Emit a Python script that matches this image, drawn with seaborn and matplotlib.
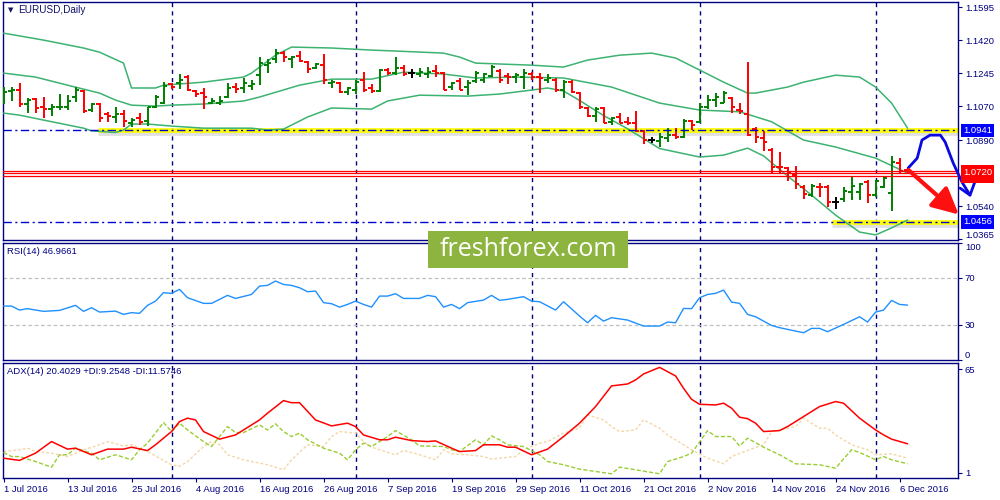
import matplotlib
matplotlib.use("Agg")
import numpy as np
import matplotlib.pyplot as plt
import matplotlib.patheffects as pe
from matplotlib.patches import Rectangle
import seaborn as sns

# ==========================================
# 1. DATA
# ==========================================
bar_open = [1.1120, 1.1150, 1.1158, 1.1081, 1.1106, 1.1063, 1.1054, 1.1063, 1.1067, 1.1120,
            1.1148, 1.1049, 1.1081, 1.1028, 1.1014, 1.1028, 1.0978, 1.1005, 1.0992, 1.1067,
            1.1084, 1.1185, 1.1190, 1.1226, 1.1151, 1.1137, 1.1088, 1.1088, 1.1120, 1.1173,
            1.1164, 1.1176, 1.1234, 1.1288, 1.1318, 1.1353, 1.1318, 1.1335, 1.1305, 1.1273,
            1.1288, 1.1190, 1.1194, 1.1146, 1.1158, 1.1208, 1.1164, 1.1150, 1.1261, 1.1243,
            1.1270, 1.1243, 1.1238, 1.1240, 1.1256, 1.1247, 1.1173, 1.1203, 1.1173, 1.1204,
            1.1208, 1.1229, 1.1257, 1.1229, 1.1226, 1.1222, 1.1240, 1.1226, 1.1208, 1.1211,
            1.1155, 1.1199, 1.1141, 1.1061, 1.1017, 1.1058, 1.0987, 1.1014, 1.0987, 1.0982,
            1.0939, 1.0890, 1.0886, 1.0899, 1.0916, 1.0904, 1.0991, 1.0987, 1.1067, 1.1105,
            1.1088, 1.1111, 1.1049, 1.1028, 1.0948, 1.0899, 1.0837, 1.0749, 1.0740, 1.0704,
            1.0643, 1.0598, 1.0643, 1.0643, 1.0563, 1.0575, 1.0616, 1.0616, 1.0669, 1.0598,
            1.0643, 1.0607, 1.0766, 1.0731]
bar_high = [1.1173, 1.1169, 1.1190, 1.1111, 1.1111, 1.1120, 1.1081, 1.1134, 1.1128, 1.1173,
            1.1155, 1.1088, 1.1084, 1.1040, 1.1063, 1.1049, 1.1005, 1.1031, 1.1067, 1.1128,
            1.1199, 1.1194, 1.1240, 1.1235, 1.1158, 1.1164, 1.1111, 1.1125, 1.1194, 1.1194,
            1.1217, 1.1211, 1.1332, 1.1318, 1.1371, 1.1362, 1.1335, 1.1362, 1.1309, 1.1300,
            1.1344, 1.1211, 1.1199, 1.1169, 1.1211, 1.1252, 1.1185, 1.1265, 1.1273, 1.1328,
            1.1288, 1.1265, 1.1270, 1.1279, 1.1288, 1.1252, 1.1199, 1.1217, 1.1208, 1.1257,
            1.1247, 1.1287, 1.1265, 1.1247, 1.1247, 1.1265, 1.1252, 1.1247, 1.1240, 1.1217,
            1.1208, 1.1208, 1.1146, 1.1067, 1.1063, 1.1063, 1.1014, 1.1031, 1.1014, 1.1044,
            1.0943, 1.0904, 1.0925, 1.0952, 1.0952, 1.1000, 1.0996, 1.1084, 1.1129, 1.1137,
            1.1150, 1.1120, 1.1084, 1.1305, 1.0961, 1.0939, 1.0846, 1.0828, 1.0749, 1.0752,
            1.0651, 1.0657, 1.0664, 1.0651, 1.0590, 1.0643, 1.0696, 1.0664, 1.0678, 1.0678,
            1.0699, 1.0805, 1.0793, 1.0745]
bar_low = [1.1081, 1.1097, 1.1067, 1.1031, 1.1031, 1.1005, 1.1017, 1.1049, 1.1049, 1.1093,
           1.1035, 1.1040, 1.0987, 1.0987, 1.0978, 1.0961, 1.0961, 1.0969, 1.0964, 1.1058,
           1.1081, 1.1159, 1.1159, 1.1150, 1.1120, 1.1053, 1.1081, 1.1076, 1.1111, 1.1137,
           1.1137, 1.1158, 1.1181, 1.1243, 1.1296, 1.1305, 1.1273, 1.1305, 1.1247, 1.1265,
           1.1185, 1.1167, 1.1137, 1.1128, 1.1132, 1.1146, 1.1141, 1.1146, 1.1234, 1.1234,
           1.1229, 1.1217, 1.1226, 1.1217, 1.1226, 1.1155, 1.1155, 1.1155, 1.1128, 1.1190,
           1.1194, 1.1226, 1.1190, 1.1187, 1.1190, 1.1159, 1.1208, 1.1141, 1.1194, 1.1146,
           1.1111, 1.1137, 1.1052, 1.1014, 1.0987, 1.0978, 1.0969, 1.0978, 1.0969, 1.0934,
           1.0867, 1.0872, 1.0855, 1.0881, 1.0893, 1.0899, 1.0943, 1.0978, 1.1052, 1.1067,
           1.1084, 1.1031, 1.1028, 1.0911, 1.0872, 1.0833, 1.0717, 1.0717, 1.0674, 1.0628,
           1.0575, 1.0586, 1.0590, 1.0533, 1.0522, 1.0563, 1.0572, 1.0572, 1.0558, 1.0590,
           1.0634, 1.0515, 1.0713, 1.0713]
bar_close = [1.1146, 1.1158, 1.1081, 1.1102, 1.1058, 1.1054, 1.1063, 1.1067, 1.1098, 1.1155,
             1.1044, 1.1081, 1.1005, 1.1019, 1.1028, 1.0992, 1.0996, 1.0987, 1.1063, 1.1120,
             1.1176, 1.1169, 1.1211, 1.1155, 1.1134, 1.1120, 1.1098, 1.1097, 1.1164, 1.1159,
             1.1194, 1.1187, 1.1296, 1.1296, 1.1353, 1.1332, 1.1332, 1.1309, 1.1265, 1.1291,
             1.1208, 1.1199, 1.1146, 1.1164, 1.1199, 1.1155, 1.1150, 1.1261, 1.1247, 1.1270,
             1.1238, 1.1243, 1.1252, 1.1252, 1.1247, 1.1158, 1.1190, 1.1158, 1.1194, 1.1243,
             1.1238, 1.1279, 1.1211, 1.1226, 1.1234, 1.1247, 1.1222, 1.1217, 1.1217, 1.1155,
             1.1199, 1.1146, 1.1063, 1.1017, 1.1052, 1.0982, 1.1005, 1.0982, 1.0982, 1.0939,
             1.0890, 1.0890, 1.0904, 1.0916, 1.0904, 1.0992, 1.0969, 1.1067, 1.1105, 1.1116,
             1.1141, 1.1067, 1.1045, 1.0916, 1.0904, 1.0881, 1.0745, 1.0745, 1.0713, 1.0657,
             1.0604, 1.0646, 1.0639, 1.0563, 1.0563, 1.0620, 1.0646, 1.0657, 1.0598, 1.0674,
             1.0687, 1.0775, 1.0727, 1.0727]

# Bollinger bands, sampled at bar indexes
bb_upper_idx = [0, 5, 10, 12, 15, 16, 19, 20, 25, 30, 31, 34, 36, 41, 46, 49, 55, 57, 59, 66,
                70, 73, 77, 81, 84, 88, 90, 93, 94, 98, 100, 104, 107, 109, 111, 113]
bb_upper = [1.1457, 1.1420, 1.1378, 1.1356, 1.1298, 1.1166, 1.1166, 1.1181, 1.1197, 1.1224,
            1.1245, 1.1340, 1.1383, 1.1378, 1.1367, 1.1362, 1.1351, 1.1330, 1.1298, 1.1287,
            1.1277, 1.1314, 1.1340, 1.1351, 1.1325, 1.1240, 1.1197, 1.1139, 1.1139, 1.1171,
            1.1197, 1.1234, 1.1224, 1.1171, 1.1086, 1.0953]
bb_mid_idx = [0, 4, 8, 10, 12, 14, 16, 19, 21, 25, 30, 32, 37, 41, 46, 50, 55, 59, 64, 70,
              72, 76, 82, 87, 92, 96, 100, 104, 109, 113]
bb_mid = [1.1245, 1.1224, 1.1181, 1.1160, 1.1139, 1.1102, 1.1075, 1.1070, 1.1075, 1.1081,
          1.1097, 1.1118, 1.1181, 1.1213, 1.1213, 1.1250, 1.1240, 1.1219, 1.1224, 1.1219,
          1.1203, 1.1171, 1.1086, 1.1049, 1.1040, 1.0987, 1.0890, 1.0853, 1.0794, 1.0715]
bb_lower_idx = [0, 2, 5, 10, 11, 14, 15, 16, 18, 21, 25, 31, 33, 35, 38, 41, 46, 48, 52, 58,
                62, 66, 68, 70, 72, 75, 78, 82, 87, 90, 93, 95, 98, 101, 104, 107, 109, 111, 113]
bb_lower = [1.1033, 1.1022, 1.0996, 1.0953, 1.0939, 1.0930, 1.0943, 1.0975, 1.0975, 1.0964,
            1.0953, 1.0953, 1.0943, 1.0948, 1.1012, 1.1060, 1.1054, 1.1097, 1.1128, 1.1123,
            1.1134, 1.1155, 1.1166, 1.1150, 1.1100, 1.1020, 1.0950, 1.0845, 1.0800, 1.0810,
            1.0847, 1.0806, 1.0699, 1.0598, 1.0492, 1.0402, 1.0387, 1.0424, 1.0466]

# RSI(14)
rsi_idx = [0, 1, 2, 3, 5, 7, 9, 10, 11, 12, 14, 15, 16, 17, 18, 19, 20, 21, 22, 23,
           25, 26, 28, 29, 31, 32, 33, 34, 35, 36, 37, 38, 39, 40, 41, 42, 43, 44, 45, 46,
           47, 48, 49, 50, 52, 53, 54, 55, 56, 57, 58, 60, 61, 62, 63, 65, 66, 67, 69, 70,
           72, 73, 74, 75, 76, 78, 80, 82, 83, 84, 85, 86, 87, 88, 89, 90, 91, 92, 93, 94,
           96, 97, 100, 101, 102, 103, 105, 107, 108, 109, 110, 111, 112, 113]
rsi = [45.9, 45.9, 42.5, 43.7, 41.4, 42.2, 46.5, 41.4, 44.5, 40.8, 41.6, 38.8, 40.3, 39.7, 46.5,
       50.1, 57.3, 56.7, 60.1, 53.0, 48.2, 48.2, 55.0, 52.4, 55.8, 62.9, 63.5, 67.2, 64.3, 63.5,
       61.5, 58.1, 58.7, 48.8, 47.9, 45.0, 47.3, 50.1, 47.3, 45.0, 54.4, 54.4, 56.4, 52.4, 52.4,
       55.0, 53.9, 45.0, 47.3, 43.7, 48.8, 51.0, 55.0, 50.8, 51.6, 53.9, 50.1, 49.6, 42.5, 49.6,
       37.4, 31.7, 38.0, 33.1, 36.0, 34.0, 28.9, 28.9, 32.3, 31.7, 43.9, 43.7, 53.0, 55.8, 56.7,
       59.5, 49.3, 48.2, 38.8, 36.8, 29.4, 27.5, 23.2, 26.9, 26.9, 24.1, 30.3, 36.8, 32.3, 40.8,
       42.5, 50.7, 47.3, 46.7]

# ADX(14) with +DI / -DI
adx_idx = [0, 2, 4, 6, 8, 9, 11, 13, 15, 16, 18, 19, 21, 22, 23, 24, 25, 27, 29, 30,
           32, 33, 35, 36, 37, 39, 41, 43, 44, 45, 47, 48, 49, 51, 53, 54, 56, 57, 59, 60,
           62, 63, 64, 66, 68, 70, 72, 74, 76, 78, 79, 80, 82, 84, 85, 86, 87, 89, 90, 91,
           92, 93, 94, 95, 97, 98, 100, 101, 102, 104, 105, 107, 109, 110, 111, 113]
adx = [9.9, 8.5, 13.0, 20.2, 15.5, 16.1, 12.0, 15.5, 15.5, 16.7, 14.6, 18.2, 26.4, 32.6, 34.7,
       33.6, 26.4, 21.7, 24.3, 27.4, 33.6, 37.8, 45.6, 44.3, 44.3, 33.6, 29.9, 31.6, 29.5, 24.3,
       21.3, 21.3, 22.9, 20.8, 20.2, 20.6, 16.1, 14.0, 14.6, 18.2, 18.2, 16.7, 16.7, 12.0, 15.5,
       23.3, 31.6, 41.9, 54.7, 55.9, 58.4, 62.1, 66.2, 60.9, 53.2, 46.4, 43.3, 42.9, 44.0, 40.9,
       35.3, 34.4, 31.6, 26.4, 27.0, 29.5, 35.7, 38.8, 41.9, 45.0, 44.0, 34.7, 27.4, 24.3, 21.7,
       18.8]
pdi_idx = [0, 1, 2, 4, 6, 7, 8, 9, 11, 12, 14, 16, 17, 18, 20, 21, 22, 23, 25, 26,
           28, 29, 30, 32, 33, 34, 35, 36, 37, 38, 40, 42, 43, 44, 45, 46, 48, 49, 51, 52,
           55, 56, 57, 59, 60, 61, 62, 63, 65, 67, 68, 70, 72, 76, 77, 79, 82, 83, 85, 86,
           88, 89, 91, 92, 93, 95, 97, 99, 102, 104, 106, 107, 109, 110, 111, 113]
pdi = [13.4, 10.9, 10.9, 7.8, 4.3, 12.0, 12.0, 16.1, 13.0, 8.9, 12.0, 8.9, 15.1, 19.2, 32.0,
       26.4, 31.6, 27.4, 20.2, 17.1, 29.5, 25.8, 25.8, 30.5, 27.4, 31.2, 26.4, 23.3, 25.4, 21.3,
       16.1, 13.0, 8.9, 15.1, 19.2, 17.1, 23.3, 27.0, 21.3, 17.5, 17.1, 15.1, 14.0, 21.3, 18.2,
       23.7, 21.3, 18.2, 17.1, 12.0, 7.8, 5.8, 3.1, 0.2, 4.3, 2.7, 0.2, 7.8, 10.9, 13.0,
       27.0, 23.3, 23.3, 17.5, 22.3, 16.7, 12.0, 6.4, 5.8, 3.7, 15.1, 13.4, 8.9, 10.9, 8.9,
       6.4]
mdi_idx = [0, 2, 3, 4, 6, 8, 10, 12, 13, 15, 16, 17, 18, 21, 22, 23, 25, 26, 27, 28,
           30, 33, 35, 36, 38, 40, 41, 42, 44, 45, 46, 47, 49, 50, 52, 54, 55, 56, 58, 60,
           61, 62, 64, 65, 67, 68, 70, 72, 73, 75, 76, 77, 79, 80, 82, 83, 85, 86, 88, 90,
           91, 93, 95, 96, 97, 99, 100, 102, 103, 104, 106, 108, 109, 111, 113]
mdi = [14.0, 15.1, 16.1, 14.0, 13.0, 10.9, 15.1, 18.2, 20.2, 17.5, 18.2, 16.1, 14.0, 5.8, 4.8,
       7.8, 17.1, 20.2, 18.2, 12.0, 8.9, 5.8, 2.7, 8.9, 18.2, 17.1, 23.3, 26.4, 25.4, 20.2,
       16.7, 15.1, 12.0, 14.7, 12.0, 8.9, 15.1, 12.6, 12.0, 10.9, 9.3, 9.9, 10.9, 15.1, 19.2,
       20.2, 25.4, 28.5, 36.7, 33.6, 29.5, 26.4, 27.4, 33.6, 28.5, 24.3, 18.2, 15.1, 9.9, 6.4,
       10.9, 14.7, 18.2, 26.4, 27.4, 29.5, 34.7, 28.5, 28.5, 24.3, 18.2, 15.1, 12.0, 12.6, 9.9]

# axis text
date_pos = [0, 8, 16, 24, 32, 40, 48, 56, 64, 72, 80, 88, 96, 104, 112]
date_labels = ["1 Jul 2016", "13 Jul 2016", "25 Jul 2016", "4 Aug 2016", "16 Aug 2016",
               "26 Aug 2016", "7 Sep 2016", "19 Sep 2016", "29 Sep 2016", "11 Oct 2016",
               "21 Oct 2016", "2 Nov 2016", "14 Nov 2016", "24 Nov 2016", "6 Dec 2016"]
month_starts = [21, 44, 66, 87, 109]
price_ticks = [1.1595, 1.1420, 1.1245, 1.1070, 1.0890, 1.0540, 1.0365]

# drawn levels and marks
level_top = 1.0941
level_bottom = 1.0456
level_top_from = 11.85
level_bottom_from = 103.6
red_levels = [1.0727, 1.0713, 1.0699]
boxed_prices = [1.0941, 1.0701, 1.0720, 1.0456]
boxed_colors = ["#0000ff", "#ff0000", "#ff0000", "#0000ff"]
sketch_x = [113.06, 114.2, 114.8, 115.8, 117.1, 117.7, 118.7, 119.8, 120.8]
sketch_y = [1.0741, 1.0794, 1.0890, 1.0916, 1.0916, 1.0879, 1.0768, 1.0667, 1.0598]
sketch_head_x = [119.56, 120.8, 121.4]
sketch_head_y = [1.0635, 1.0598, 1.0667]
arrow_from = (113.1, 1.0731)
arrow_to = (119.4, 1.0495)

# ==========================================
# 2. FIGURE
# ==========================================
sns.set_style("white")
plt.rcParams['font.family'] = ['Liberation Sans', 'DejaVu Sans']
NAVY = "#000080"
FS = 6.8

fig = plt.figure(figsize=(10, 5), dpi=100)
W, H = 1000.0, 500.0


def panel(top, bottom):
    return fig.add_axes([3 / W, 1 - bottom / H, 955 / W, (bottom - top) / H])


ax = panel(2, 240)
ax_rsi = panel(242.5, 360)
ax_adx = panel(362.7, 478)

idx = np.arange(len(bar_close))
xlim = (-0.0625, 119.3)

for a in (ax, ax_rsi, ax_adx):
    a.set_xlim(*xlim)
    for s in a.spines.values():
        s.set_color(NAVY)
        s.set_linewidth(1.0)
    a.yaxis.tick_right()
    a.tick_params(axis='y', direction='out', length=3, color=NAVY, labelcolor=NAVY,
                  labelsize=FS, pad=2, left=False, right=True)
    a.tick_params(axis='x', bottom=False, labelbottom=False)
    for m in month_starts:
        a.axvline(m, color=NAVY, lw=1.0, ls=(0, (3, 3)), zorder=1)

# ---- main price panel ----
ax.set_ylim(1.0360, 1.1622)
ax.set_yticks(price_ticks)
# lowest label is nudged up by hand (below) so it clears the RSI "100"
ax.set_yticklabels([f"{p:.4f}" for p in price_ticks[:-1]] + [""])
ax.annotate(f"{price_ticks[-1]:.4f}", xy=(1.0, price_ticks[-1]), xycoords=ax.get_yaxis_transform(),
            xytext=(5, 2.5), textcoords="offset points", fontsize=FS, color=NAVY,
            va="center", ha="left", annotation_clip=False)

o = np.array(bar_open); c = np.array(bar_close)
colors = np.where(c > o, "#008000", np.where(c < o, "#ff0000", "#000000"))
ax.vlines(idx, bar_low, bar_high, colors=colors, lw=1.4, zorder=4)
ax.hlines(bar_open, idx - 0.4, idx, colors=colors, lw=1.4, zorder=4)
ax.hlines(bar_close, idx, idx + 0.4, colors=colors, lw=1.4, zorder=4)

for bx, by in ((bb_upper_idx, bb_upper), (bb_mid_idx, bb_mid), (bb_lower_idx, bb_lower)):
    sns.lineplot(x=bx, y=by, ax=ax, color="#3cb371", lw=1.1, estimator=None, legend=False, zorder=3)

shadow = [pe.SimpleLineShadow(offset=(0, -2.2), shadow_color="#9a9a9a", alpha=0.3), pe.Normal()]
ax.hlines(level_top, level_top_from, xlim[1], color="#ffff00", lw=3.4, zorder=2, path_effects=shadow)
ax.hlines(level_bottom, level_bottom_from, xlim[1], color="#ffff00", lw=3.4, zorder=2, path_effects=shadow)
for lv in (level_top, level_bottom):
    ax.axhline(lv, color="#0000cd", lw=1.0, ls=(0, (6, 2.5, 1.5, 2.5)), zorder=5)
for lv in red_levels:
    ax.axhline(lv, color="#ff0000", lw=0.9, zorder=5)

for p, col in zip(boxed_prices, boxed_colors):
    ax.text(1.0 + 5 / 955, p, f"{p:.4f}", transform=ax.get_yaxis_transform(), color="white",
            fontsize=FS, va="center", ha="left", zorder=10, clip_on=False,
            bbox=dict(boxstyle="square,pad=0.25", fc=col, ec="none"))

ax.plot(sketch_x, sketch_y, color="#0a0ae0", lw=2.0, clip_on=False, zorder=8,
        solid_capstyle="round", solid_joinstyle="round")
ax.plot(sketch_head_x, sketch_head_y, color="#0a0ae0", lw=2.0, clip_on=False, zorder=8,
        solid_capstyle="round")
ax.annotate("", xy=arrow_to, xytext=arrow_from, annotation_clip=False, zorder=9,
            arrowprops=dict(arrowstyle="-|>,head_length=1.0,head_width=0.5", color="#ff1010",
                            lw=3.0, mutation_scale=16, shrinkA=0, shrinkB=0))

fig.text(8 / W, 1 - 10 / H, "\u25bc", fontsize=5, color="#10106a", va="center", ha="left",
         family=["DejaVu Sans"])
fig.text(18 / W, 1 - 10 / H, "EURUSD,Daily", fontsize=7.2, color="#10106a", va="center", ha="left")

# ---- RSI panel ----
ax_rsi.set_ylim(0, 100)
ax_rsi.set_yticks([100, 70, 30, 0])
ax_rsi.set_yticklabels(["100", "70", "30", "0"])
ax_rsi.get_yticklabels()[0].set_va("top")
ax_rsi.get_yticklabels()[3].set_va("bottom")
for lv in (70, 30):
    ax_rsi.axhline(lv, color="#c0c0c0", lw=0.9, ls=(0, (3, 2)), zorder=1)
sns.lineplot(x=rsi_idx, y=rsi, ax=ax_rsi, color="#1e90ff", lw=1.0, estimator=None, legend=False, zorder=3)
fig.text(7 / W, 1 - 251 / H, "RSI(14) 46.9661", fontsize=FS, color=NAVY, va="center", ha="left")

# ---- ADX panel ----
ax_adx.set_ylim(-2.4, 69.1)
ax_adx.set_yticks([65, 1])
ax_adx.set_yticklabels(["65", "1"])
sns.lineplot(x=mdi_idx, y=mdi, ax=ax_adx, color="#f5d6a6", lw=1.0, linestyle=(0, (2, 1.5)),
             estimator=None, legend=False, zorder=2)
sns.lineplot(x=pdi_idx, y=pdi, ax=ax_adx, color="#9acd32", lw=1.0, linestyle=(0, (3, 1.5)),
             estimator=None, legend=False, zorder=3)
sns.lineplot(x=adx_idx, y=adx, ax=ax_adx, color="#ff0000", lw=1.1, estimator=None, legend=False, zorder=4)
fig.text(7 / W, 1 - 371 / H, "ADX(14) 20.4029 +DI:9.2548 -DI:11.5746", fontsize=FS, color=NAVY,
         va="center", ha="left")

ax_adx.tick_params(axis='x', bottom=True, labelbottom=True, direction='out', length=3,
                   color=NAVY, labelcolor=NAVY, labelsize=FS, pad=2)
ax_adx.set_xticks(date_pos)
ax_adx.set_xticklabels(date_labels, ha="left")
for a in (ax, ax_rsi, ax_adx):
    a.set_xlabel("")
    a.set_ylabel("")

# ---- watermark ----
fig.add_artist(Rectangle((428 / W, 1 - 268 / H), 200 / W, 37 / H, transform=fig.transFigure,
                         facecolor="#8db43e", edgecolor="none", zorder=20))
fig.text(528 / W, 1 - 250 / H, "freshforex.com", fontsize=18, color="white", ha="center",
         va="center", zorder=21, family=["Open Sans", "DejaVu Sans"])

fig.savefig("out.png", dpi=100)
plt.close()
